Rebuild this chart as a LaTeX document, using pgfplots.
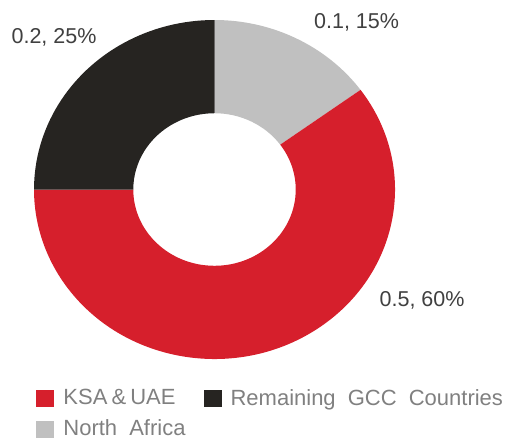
\documentclass[border=0pt]{standalone}
\usepackage{pgfplots}
\pgfplotsset{compat=1.18}
\usepackage{pgfplotstable}
\usepackage{fontspec}
\setmainfont{Liberation Sans}
\definecolor{ksared}{RGB}{214,31,44}
\definecolor{gccdark}{RGB}{38,36,33}
\definecolor{nagray}{RGB}{192,192,192}
\definecolor{labeltext}{RGB}{64,64,64}
\definecolor{legendtext}{RGB}{128,128,128}

\pgfplotstableread[col sep=comma]{
region,value,pct
North Africa,0.1,15
KSA and UAE,0.5,60
Remaining GCC Countries,0.2,25
}\sharedata

\pgfplotsset{sqlegend/.style={legend image code/.code={\fill[##1,draw=none] (0pt,-4.25pt) rectangle (9pt,4.25pt);}}}

\begin{document}
\begin{tikzpicture}
\pgfplotstablegetelem{0}{pct}\of\sharedata \let\pNA\pgfplotsretval
\pgfplotstablegetelem{1}{pct}\of\sharedata \let\pKSA\pgfplotsretval
\pgfplotstablegetelem{2}{pct}\of\sharedata \let\pGCC\pgfplotsretval
\pgfmathsetmacro\aA{90}
\pgfmathsetmacro\aB{\aA-3.6*\pNA}
\pgfmathsetmacro\aC{\aB-3.6*\pKSA}
\pgfmathsetmacro\aD{\aC-3.6*\pGCC}
\def\ri{0.45}
\begin{axis}[
  at={(0,0)}, anchor=center,
  x=90.25pt, y=84.75pt,
  xmin=-1, xmax=1, ymin=-1, ymax=1,
  hide axis, clip=false,
  legend columns=2,
  legend style={draw=none, fill=none, at={(-0.011,-0.064)}, anchor=north west,
    font=\fontsize{11}{13}\selectfont, text=legendtext,
    /tikz/every odd column/.append style={column sep=2.5pt},
    /tikz/every even column/.append style={column sep=7pt}, row sep=2pt},
  legend cell align=left,
]
% North Africa
\fill[nagray] (axis cs:{cos(\aA)},{sin(\aA)}) arc[start angle=\aA, end angle=\aB, radius=1]
  -- (axis cs:{\ri*cos(\aB)},{\ri*sin(\aB)}) arc[start angle=\aB, end angle=\aA, radius=\ri] -- cycle;
% KSA & UAE
\fill[ksared] (axis cs:{cos(\aB)},{sin(\aB)}) arc[start angle=\aB, end angle=\aC, radius=1]
  -- (axis cs:{\ri*cos(\aC)},{\ri*sin(\aC)}) arc[start angle=\aC, end angle=\aB, radius=\ri] -- cycle;
% Remaining GCC
\fill[gccdark] (axis cs:{cos(\aC)},{sin(\aC)}) arc[start angle=\aC, end angle=\aD, radius=1]
  -- (axis cs:{\ri*cos(\aD)},{\ri*sin(\aD)}) arc[start angle=\aD, end angle=\aC, radius=\ri] -- cycle;

\node[font=\fontsize{10.75}{13}\selectfont, text=labeltext] at (axis cs:-0.889,0.900) {0.2, 25\%};
\node[font=\fontsize{10.75}{13}\selectfont, text=labeltext] at (axis cs:0.787,0.985) {0.1, 15\%};
\node[font=\fontsize{10.75}{13}\selectfont, text=labeltext] at (axis cs:1.150,-0.655) {0.5, 60\%};

\addlegendimage{sqlegend, fill=ksared}
\addlegendentry{KSA\hspace{-1pt} \&\hspace{-1pt} UAE}
\addlegendimage{sqlegend, fill=gccdark}
\addlegendentry{Remaining\hspace{3pt} GCC\hspace{3pt} Countries}
\addlegendimage{sqlegend, fill=nagray}
\addlegendentry{North\hspace{3pt} Africa}
\end{axis}
\pgfresetboundingbox
\useasboundingbox (-107.25pt,-124.75pt) rectangle (153.75pt,94.75pt);
\end{tikzpicture}
\end{document}
